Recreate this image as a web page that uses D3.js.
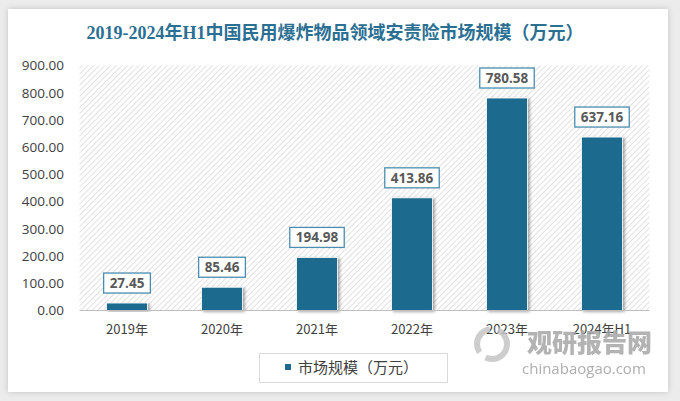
<!DOCTYPE html>
<html><head><meta charset="utf-8">
<script src="https://cdn.jsdelivr.net/npm/d3@7/dist/d3.min.js"></script>
<style>
html,body{margin:0;padding:0;background:#ececec;}
svg{display:block;}
</style></head>
<body>
<svg id="c" width="680" height="401"></svg>
<script>
const categories = ["2019年","2020年","2021年","2022年","2023年","2024年H1"];
const values = [27.45, 85.46, 194.98, 413.86, 780.58, 637.16];
const yTicks = [0,100,200,300,400,500,600,700,800,900];
const title = "2019-2024年H1中国民用爆炸物品领域安责险市场规模（万元）";
const legendLabel = "市场规模（万元）";

const svg = d3.select("#c");
const defs = svg.append("defs");
const cardF = defs.append("filter").attr("id","cardShadow").attr("x","-5%").attr("y","-5%").attr("width","110%").attr("height","110%");
cardF.append("feDropShadow").attr("dx",0).attr("dy",0).attr("stdDeviation",3).attr("flood-color","#000").attr("flood-opacity",0.18);
const barF = defs.append("filter").attr("id","barShadow").attr("x","-20%").attr("y","-10%").attr("width","150%").attr("height","130%");
barF.append("feDropShadow").attr("dx",2).attr("dy",1).attr("stdDeviation",1.5).attr("flood-color","#000").attr("flood-opacity",0.35);
const pat = defs.append("pattern").attr("id","hatch").attr("patternUnits","userSpaceOnUse")
  .attr("width",4).attr("height",4).attr("patternTransform","rotate(45)");
pat.append("rect").attr("width",4).attr("height",4).attr("fill","#ffffff");
pat.append("line").attr("x1",0).attr("y1",0).attr("x2",0).attr("y2",4).attr("stroke","#cdcdcd").attr("stroke-width",1.2);

// card
svg.append("rect").attr("x",8).attr("y",9).attr("width",660).attr("height",383)
  .attr("fill","#fff").attr("filter","url(#cardShadow)");

// title
svg.append("text").attr("x",335).attr("y",39).attr("text-anchor","middle")
  .attr("font-family","'Liberation Serif','Noto Sans CJK SC',serif").attr("font-weight","bold")
  .attr("font-size",18).attr("fill","#2b6f93").text(title);

const x = d3.scaleBand().domain(categories).range([79.5,649.5]).paddingInner(0.57).paddingOuter(0.285);
const y = d3.scaleLinear().domain([0,900]).range([310.5,65.5]);

// plot background hatch
svg.append("rect").attr("x",79.5).attr("y",y(900)).attr("width",570).attr("height",y(0)-y(900))
  .attr("fill","url(#hatch)");

// y axis
const yAxis = d3.axisLeft(y).tickValues(yTicks).tickFormat(d3.format(".2f")).tickSize(0).tickPadding(0);
const yg = svg.append("g").attr("transform","translate(64,0)").call(yAxis);
yg.select(".domain").remove();
yg.selectAll("text").attr("font-family","'Open Sans','DejaVu Sans',sans-serif").attr("font-size",13.5).attr("fill","#404040");

// bars
svg.append("g").selectAll("rect").data(values).join("rect")
  .attr("x",(d,i)=>x(categories[i])).attr("width",x.bandwidth())
  .attr("y",d=>y(d)).attr("height",d=>y(0)-y(d))
  .attr("fill","#1b6a8d").attr("stroke","#ffffff").attr("stroke-width",0.8)
  .attr("filter","url(#barShadow)");

// x axis
const xAxis = d3.axisBottom(x).tickSize(0).tickPadding(14);
const xg = svg.append("g").attr("transform",`translate(0,${y(0)})`).call(xAxis);
xg.select(".domain").attr("stroke","#bfbfbf").attr("stroke-width",1.2).attr("d","M79.5,0H649.5");
xg.selectAll("text").attr("font-family","'Noto Sans CJK SC','Open Sans',sans-serif").attr("font-size",13).attr("fill","#404040");

// labels
const lg = svg.append("g").selectAll("g").data(values).join("g");
lg.each(function(d,i){
  const g = d3.select(this);
  const cx = x(categories[i]) + x.bandwidth()/2;
  const t = g.append("text").attr("x",cx).attr("y",y(d)-15).attr("text-anchor","middle")
    .attr("font-family","'Open Sans','DejaVu Sans',sans-serif").attr("font-weight","bold")
    .attr("font-size",13.5).attr("fill","#595959").text(d.toFixed(2));
  const w = t.node().getComputedTextLength() + 12;
  g.insert("rect","text").attr("x",cx-w/2).attr("y",y(d)-30).attr("width",w).attr("height",20)
    .attr("fill","#fff").attr("stroke","#4a8db0").attr("stroke-width",1.3);
});

// watermark
const wm = svg.append("g").attr("opacity",0.85);
wm.append("circle").attr("cx",492).attr("cy",344).attr("r",15).attr("fill","none").attr("stroke","#c4c4c4").attr("stroke-width",6).attr("stroke-dasharray","30 8");
wm.append("text").attr("x",527).attr("y",352).attr("font-family","'Noto Sans CJK SC',sans-serif").attr("font-weight","900")
  .attr("font-size",25).attr("fill","#a6a6a6").text("观研报告网");
wm.append("text").attr("x",522).attr("y",374).attr("font-family","'Open Sans','DejaVu Sans',sans-serif")
  .attr("font-size",15).attr("fill","#a0a0a0").text("chinabaogao.com");

// legend
svg.append("rect").attr("x",259.5).attr("y",353.5).attr("width",188).attr("height",29)
  .attr("fill","#fff").attr("stroke","#d9d9d9");
svg.append("rect").attr("x",285).attr("y",364).attr("width",6).attr("height",6).attr("fill","#1b6a8d");
svg.append("text").attr("x",298).attr("y",373).attr("font-family","'Noto Sans CJK SC',sans-serif")
  .attr("font-size",15).attr("fill","#404040").text(legendLabel);
</script>
</body></html>
